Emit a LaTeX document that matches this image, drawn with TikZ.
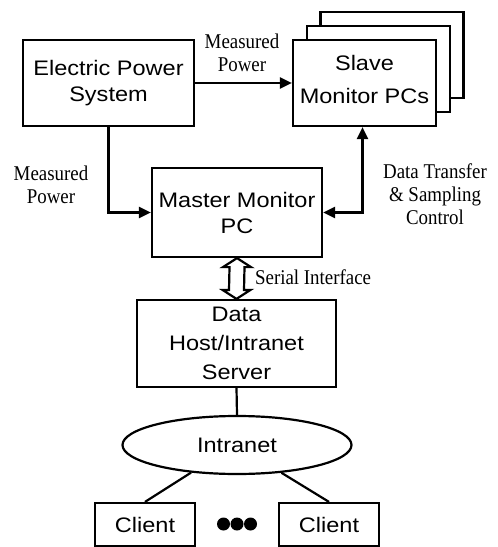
\documentclass[tikz,border=0pt]{standalone}
\usepackage{fontspec}
\setmainfont{Liberation Serif}
\setsansfont{Liberation Sans}
\newfontfamily\boxfont[FakeStretch=1.12]{Liberation Sans}
\newfontfamily\lblfont[FakeStretch=0.9]{Liberation Serif}
\usetikzlibrary{arrows.meta,shapes.geometric,calc}

\begin{document}
\begin{tikzpicture}[x=1bp,y=-1bp,
  line width=2.2bp,
  box/.style={draw, rectangle, fill=white, align=center, inner sep=0pt,
    font=\boxfont\fontsize{21bp}{26bp}\selectfont},
  lbl/.style={align=center, inner sep=0pt,
    font=\lblfont\fontsize{21bp}{23bp}\selectfont},
  arr/.style={-{Triangle[length=12bp,width=11bp]}},
  darr/.style={{Triangle[length=12bp,width=11bp]}-{Triangle[length=12bp,width=11bp]}},
]
\useasboundingbox (0,0) rectangle (498,547);

% blocks
\node[box, minimum width=171bp, minimum height=86bp] (eps) at (108.5,83)
  {Electric Power\\System};
\node[box, minimum width=143bp, minimum height=86bp] (slave3) at (392,55) {};
\node[box, minimum width=143bp, minimum height=86bp] (slave2) at (378.5,69) {};
\node[box, minimum width=143bp, minimum height=86bp, text depth=8bp,
  font=\boxfont\fontsize{21bp}{33bp}\selectfont] (slave) at (364.5,83)
  {Slave\\Monitor PCs};
\node[box, minimum width=170bp, minimum height=89bp] (master) at (237,212.5)
  {Master Monitor\\PC};
\node[box, minimum width=199bp, minimum height=87bp,
  font=\boxfont\fontsize{21bp}{29bp}\selectfont] (host) at (236.5,343.5)
  {Data\\Host/Intranet\\Server};
\node[draw, ellipse, fill=white, inner sep=0pt, minimum width=229bp, minimum height=58bp,
  font=\boxfont\fontsize{21bp}{26bp}\selectfont] (intra) at (237,445) {Intranet};
\node[box, minimum width=100bp, minimum height=43bp] (clientL) at (145,524.5) {Client};
\node[box, minimum width=100bp, minimum height=43bp] (clientR) at (329,524.5) {Client};
\coordinate (dots) at (237,524);

% labels
\node[lbl] (lblTop) at (242,53) {Measured\\Power};
\node[lbl] (lblLeft) at (51,185) {Measured\\Power};
\node[lbl] (lblRight) at (435,194) {Data Transfer\\\& Sampling\\Control};
\node[lbl, anchor=west] (lblSer) at (254,277) {Serial Interface};

% connectors
\draw[arr] (eps.east) -- (slave.west);
\draw[arr] (eps.south) |- (master.west);
\draw[darr] ([xshift=-2bp]slave.south) |- (master.east);
\draw[line join=miter]
  (master.south) -- ++(14,9) -- ++(-6.5,0)
  -- ($(host.north)+(7.5,-9)$) -- ++(6.5,0) -- (host.north)
  -- ++(-14,-9) -- ++(6.5,0)
  -- ($(master.south)+(-7.5,9)$) -- ++(-6.5,0) -- cycle;
\draw (host.south) -- (intra.north);
\draw (intra.211.5) -- (clientL.north);
\draw (intra.328.5) -- (clientR.north);

% ellipsis between the clients
\fill ($(dots)+(-13.5,0)$) circle (6.5bp);
\fill (dots) circle (6.5bp);
\fill ($(dots)+(13.5,0)$) circle (6.5bp);
\end{tikzpicture}
\end{document}
